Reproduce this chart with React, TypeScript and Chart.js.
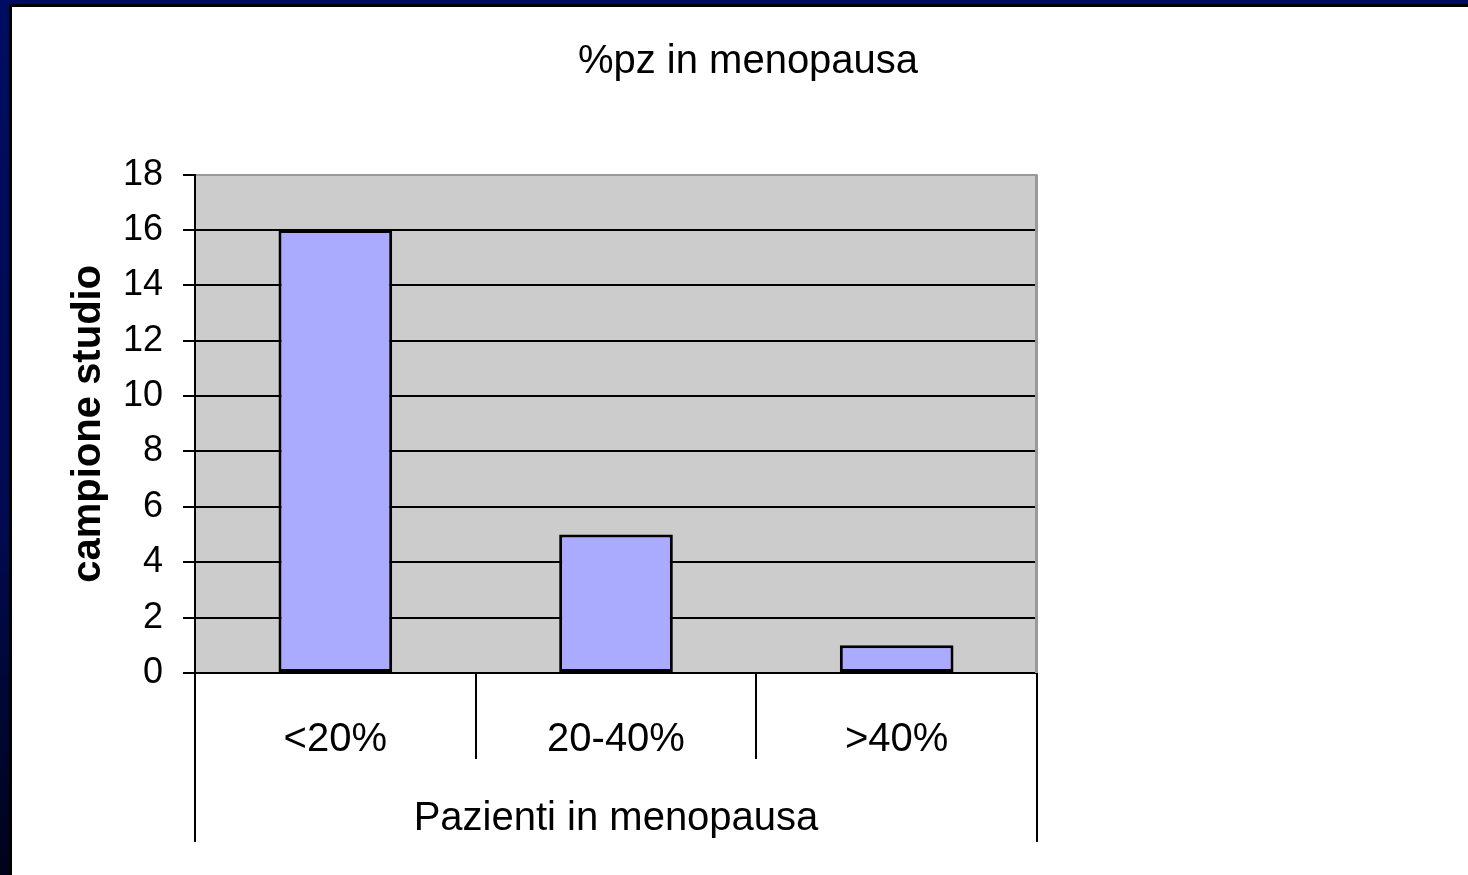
import React, { useEffect, useRef } from 'react';
import { Chart, registerables } from 'chart.js';

Chart.register(...registerables);

const categories = ['<20%', '20-40%', '>40%'];
const values = [16, 5, 1];
const yMin = 0;
const yMax = 18;
const yStep = 2;
const chartTitle = '%pz in menopausa';
const xTitle = 'Pazienti in menopausa';
const yTitle = 'campione studio';

const FONT = "'Liberation Sans', Arial, Helvetica, sans-serif";

const decorPlugin = {
  id: 'decor',
  beforeDraw(chart: any) {
    const { ctx, chartArea: a } = chart;
    ctx.save();
    ctx.fillStyle = '#cccccc';
    ctx.fillRect(a.left, a.top, a.right - a.left, a.bottom - a.top);
    ctx.restore();
  },
  afterDraw(chart: any) {
    const { ctx, chartArea: a } = chart;
    const xs = chart.scales.x;
    ctx.save();
    ctx.strokeStyle = '#999999';
    ctx.lineWidth = 3;
    ctx.beginPath();
    ctx.moveTo(a.right - 0.5, a.top);
    ctx.lineTo(a.right - 0.5, a.bottom);
    ctx.stroke();
    ctx.strokeStyle = '#000000';
    ctx.lineWidth = 2;
    for (let i = 0; i <= categories.length; i++) {
      const x = Math.round(xs.getPixelForValue(i - 0.5));
      const len = i === 0 || i === categories.length ? 169 : 86;
      ctx.beginPath();
      ctx.moveTo(x, a.bottom);
      ctx.lineTo(x, a.bottom + len);
      ctx.stroke();
    }
    ctx.restore();
  },
};

export default function App() {
  const ref = useRef<HTMLCanvasElement>(null);

  useEffect(() => {
    if (!ref.current) return;
    const chart = new Chart(ref.current, {
      type: 'bar',
      data: {
        labels: categories,
        datasets: [
          {
            data: values,
            backgroundColor: '#aaaaff',
            borderColor: '#000000',
            borderWidth: 3,
            borderSkipped: false,
            categoryPercentage: 1,
            barPercentage: 0.405,
          },
        ],
      },
      options: {
        responsive: false,
        animation: false,
        layout: { padding: { left: 28, right: 0, top: 0, bottom: 0 } },
        plugins: {
          legend: { display: false },
          tooltip: { enabled: false },
          title: {
            display: true,
            text: chartTitle,
            color: '#000000',
            font: { family: FONT, size: 40, weight: 'normal' },
            padding: { top: 38, bottom: 88.6 },
          },
        },
        scales: {
          x: {
            type: 'category',
            grid: { display: false, drawTicks: false },
            border: { display: true, color: '#000000', width: 2 },
            ticks: {
              color: '#000000',
              font: { family: FONT, size: 40 },
              padding: 43,
              maxRotation: 0,
            },
            title: {
              display: true,
              text: xTitle,
              color: '#000000',
              font: { family: FONT, size: 40 },
              padding: { top: 0, bottom: 32 },
            },
            afterFit: (s: any) => {
              s.height = 202;
            },
          },
          y: {
            min: yMin,
            max: yMax,
            ticks: {
              stepSize: yStep,
              color: '#000000',
              font: { family: FONT, size: 36 },
              padding: 20,
            },
            grid: {
              color: (c: any) => (c.tick && c.tick.value === yMax ? '#999999' : '#000000'),
              lineWidth: 2,
              tickColor: '#000000',
              tickLength: 12,
              drawTicks: true,
            },
            border: { color: '#000000', width: 2 },
            title: {
              display: true,
              text: yTitle,
              color: '#000000',
              font: { family: FONT, size: 40, weight: 'bold' },
              padding: { top: 37, bottom: 0 },
            },
            afterFit: (s: any) => {
              s.width = 167;
            },
          },
          y2: {
            position: 'right',
            display: true,
            ticks: { display: false },
            grid: { display: false },
            border: { display: false },
            afterFit: (s: any) => {
              s.width = 431;
            },
          },
        },
      },
      plugins: [decorPlugin],
    } as any);
    return () => chart.destroy();
  }, []);

  return (
    <div
      style={{
        position: 'fixed',
        left: 0,
        top: 0,
        width: 1468,
        height: 875,
        background: 'linear-gradient(#000c62, #000a50 60%, #00031a)',
      }}
    >
      <div
        style={{
          position: 'absolute',
          left: 9,
          top: 4,
          right: 0,
          bottom: 0,
          borderLeft: '3px solid #000',
          borderTop: '3px solid #000',
          background: '#ffffff',
          boxSizing: 'border-box',
        }}
      />
      <canvas
        ref={ref}
        width={1468}
        height={875}
        style={{ position: 'absolute', left: 0, top: 0, width: 1468, height: 875 }}
      />
    </div>
  );
}
